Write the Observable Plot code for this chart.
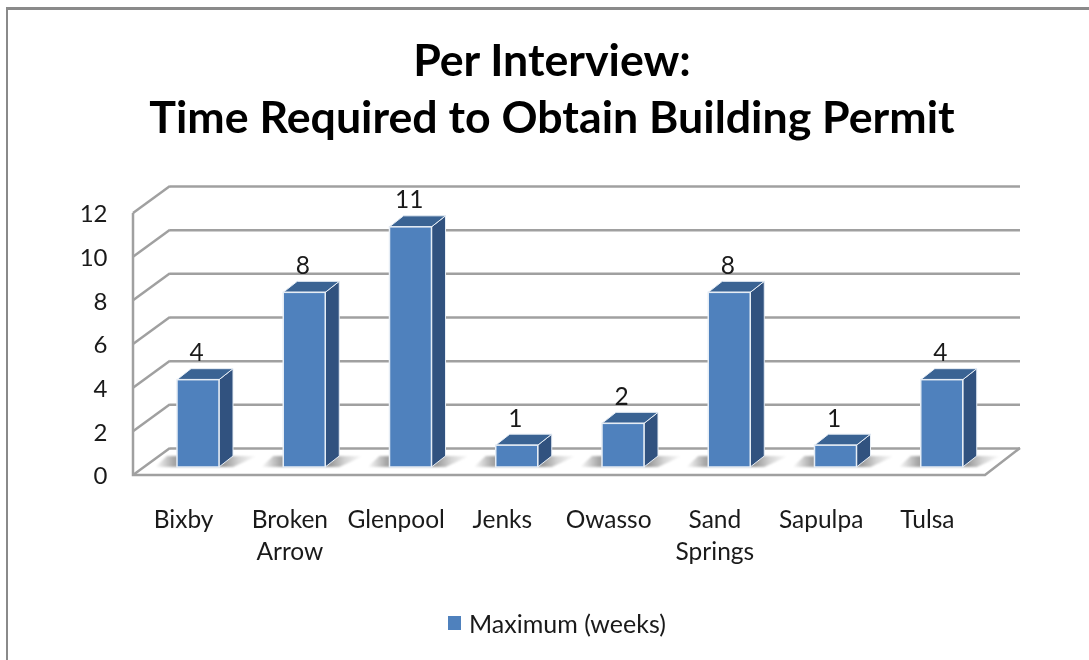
<!DOCTYPE html>
<html>
<head>
<meta charset="utf-8">
<script src="https://cdn.jsdelivr.net/npm/d3@7"></script>
<script src="https://cdn.jsdelivr.net/npm/@observablehq/plot@0.6"></script>
<style>
  html, body { margin: 0; padding: 0; background: #fff; overflow: hidden; }
  #page { position: relative; width: 1089px; height: 660px; font-family: Lato, sans-serif; color: #1a1a1a; filter: blur(0.4px); }
  #frame { position: absolute; left: 6px; top: 7px; right: -10px; bottom: -10px; border-left: 2px solid #8a8a8a; border-top: 3px solid #8a8a8a; }
  #title { position: absolute; left: 0; width: 1104px; top: 31px; margin: 0; text-align: center; font-size: 44.7px; line-height: 57px; font-weight: 700; color: #000; }
  #chart { position: absolute; left: 0; top: 160px; }
  #legend { position: absolute; left: 448px; top: 607px; display: flex; align-items: center; font-size: 25px; line-height: 32px; }
  #legend i { display: block; width: 13px; height: 14px; background: #4f81bd; margin-right: 8px; }
</style>
</head>
<body>
<div id="page">
  <div id="frame"></div>
  <h1 id="title">Per Interview:<br>Time Required to Obtain Building Permit</h1>
  <div id="chart"></div>
  <div id="legend"><i></i><span>Maximum (weeks)</span></div>
</div>
<script>
const categories = ["Bixby", "Broken Arrow", "Glenpool", "Jenks", "Owasso", "Sand Springs", "Sapulpa", "Tulsa"];
const maximumWeeks = [4, 8, 11, 1, 2, 8, 1, 4];
const yTicks = [0, 2, 4, 6, 8, 10, 12];

const rows = categories.map((city, i) => ({city, weeks: maximumWeeks[i]}));

// Oblique projection of the 3-D chart, in pixels
const wall = {dx: 37, dy: -27};
const barLift = -8;
const bar = {left: 44, width: 42, dx: 14, dy: -11};

const gridColor = "#a0a0a0";

function svgGroup(context) { return d3.select(context.document.createElementNS("http://www.w3.org/2000/svg", "g")); }
const poly = pts => pts.map(p => p.join(",")).join(" ");

const frameMark = (index, {y}, values, {marginLeft, width, marginRight}, context) => {
  const g = svgGroup(context);
  const x0 = marginLeft, x1 = width - marginRight + 2, y0 = y(0), yTop = y(12);
  const s = (sel) => sel.attr("stroke", gridColor).attr("stroke-width", 2.5).attr("fill", "none");
  for (const t of yTicks) {
    s(g.append("line")).attr("x1", x0).attr("y1", y(t)).attr("x2", x0 + wall.dx).attr("y2", y(t) + wall.dy);
  }
  s(g.append("polyline")).attr("points", poly([[x0, yTop], [x0, y0], [x1, y0], [x1 + wall.dx - 2, y0 + wall.dy]]));
  return g.node();
};

const shadowMark = (index, {x, y}, values, dims, context) => {
  const g = svgGroup(context);
  const defs = g.append("defs");
  const grad = defs.append("linearGradient").attr("id", "floorShadow");
  [[0, "#fff"], [0.19, "#a4a4a4"], [0.68, "#9a9a9a"], [0.82, "#d4d4d4"], [1, "#fff"]].forEach(([o, c]) =>
    grad.append("stop").attr("offset", o).attr("stop-color", c));
  const blur = defs.append("filter").attr("id", "floorBlur").attr("x", "-10%").attr("y", "-30%").attr("width", "120%").attr("height", "160%");
  blur.append("feGaussianBlur").attr("stdDeviation", 1.2);
  for (const c of categories) {
    const l = x(c) + bar.left, b = y(0) + barLift;
    g.append("polygon").attr("fill", "url(#floorShadow)").attr("filter", "url(#floorBlur)")
      .attr("points", poly([[l - 22, b], [l + 56, b], [l + 80, b - 11], [l - 10, b - 11]]));
  }
  return g.node();
};

const depthMark = (index, {x, y}, values, dims, context) => {
  const g = svgGroup(context);
  rows.forEach(r => {
    const l = x(r.city) + bar.left, rgt = l + bar.width;
    const t = y(r.weeks) + barLift, b = y(0) + barLift;
    g.append("polygon").attr("fill", "#31527f").attr("stroke", "#e6edf5").attr("stroke-width", 1)
      .attr("points", poly([[rgt, t], [rgt + bar.dx, t + bar.dy], [rgt + bar.dx, b + bar.dy], [rgt, b]]));
    g.append("polygon").attr("fill", "#3a6393").attr("stroke", "#e6edf5").attr("stroke-width", 1)
      .attr("points", poly([[l, t], [l + bar.dx, t + bar.dy], [rgt + bar.dx, t + bar.dy], [rgt, t]]));
  });
  return g.node();
};

const plot = Plot.plot({
  width: 1089,
  height: 450,
  marginLeft: 133,
  marginRight: 106,
  marginTop: 53,
  marginBottom: 135,
  style: {fontFamily: "Lato, sans-serif", background: "transparent", color: "#1a1a1a"},
  x: {type: "band", domain: categories, padding: 0, round: false, label: null},
  y: {domain: [0, 12], label: null},
  marks: [
    Plot.ruleY(yTicks, {y: d => d, dx: wall.dx, dy: wall.dy, stroke: gridColor, strokeWidth: 2.5, strokeOpacity: 1}),
    frameMark,
    shadowMark,
    depthMark,
    Plot.barY(rows, {
      x: "city", y: "weeks", dy: barLift,
      insetLeft: bar.left, insetRight: 106.25 - bar.left - bar.width,
      fill: "#4f81bd", stroke: "#e6edf5", strokeWidth: 1.5
    }),
    Plot.text(rows, {
      x: "city", y: "weeks", text: d => String(d.weeks),
      dx: 10, dy: barLift - 27, fontSize: 24.5, fill: "#1a1a1a"
    }),
    Plot.axisY({ticks: yTicks, tickSize: 0, tickPadding: 26, fontSize: 24, label: null, fill: "#1a1a1a", dy: 1}),
    Plot.axisX({
      tickSize: 0, tickPadding: 29, fontSize: 24.5, label: null, fill: "#1a1a1a", dx: -3,
      lineHeight: 1.33, tickFormat: d => d.replace(" ", "\n")
    })
  ]
});
document.getElementById("chart").appendChild(plot);
</script>
</body>
</html>
